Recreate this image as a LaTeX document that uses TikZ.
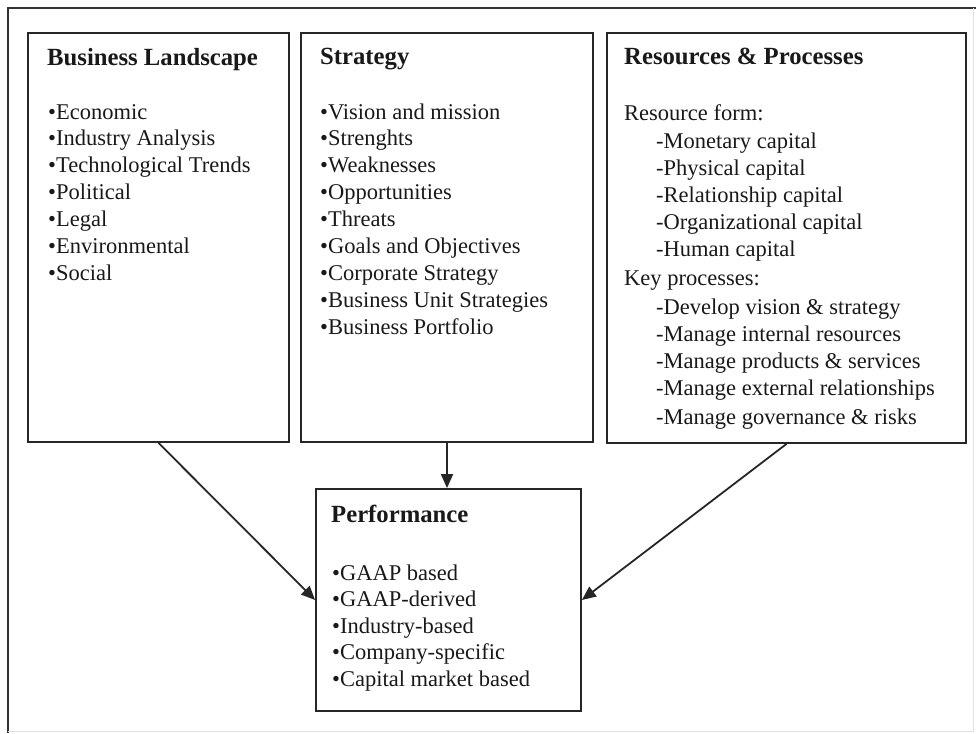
\documentclass[tikz,border=0pt]{standalone}
\usepackage{fontspec}
\setmainfont{Liberation Serif}
\usetikzlibrary{arrows.meta}
\begin{document}
\begin{tikzpicture}[x=1pt,y=-1pt,
  panel/.style={draw=black!85, line width=1.8pt, inner sep=0pt, fill=white},
  txt/.style={anchor=base west, inner sep=0pt, text=black!90,
    font=\fontsize{22.5}{27}\selectfont},
  head/.style={txt, font=\fontsize{24.7}{29}\selectfont\bfseries},
  conn/.style={draw=black!85, line width=1.8pt,
    -{Triangle[length=14pt,width=12pt]}}]
\useasboundingbox (0,0) rectangle (976,733);

% outer frame
\draw[black!80, line width=1.8pt] (8,733) -- (8,8) -- (976,8);
\draw[black!12, line width=1pt] (973,8) -- (973,731) -- (8,731);

% panels
\node[panel, minimum width=261pt, minimum height=409pt] (bl) at (158.5,237.5) {};
\node[panel, minimum width=292pt, minimum height=409pt] (st) at (447,237.5) {};
\node[panel, minimum width=359pt, minimum height=410pt] (rp) at (786.5,238) {};
\node[panel, minimum width=265pt, minimum height=222pt] (pf) at (448.5,600) {};

% Business Landscape
\node[head] (blh) at (47,66) {Business Landscape};
\foreach \t [count=\i] in {Economic, Industry Analysis, Technological Trends,
    Political, Legal, Environmental, Social}
  \node[txt] (bl\i) at (48,{119+26.9*(\i-1)}) {•\t};

% Strategy
\node[head] (sth) at (320,65) {Strategy};
\foreach \t [count=\i] in {Vision and mission, Strenghts, Weaknesses,
    Opportunities, Threats, Goals and Objectives, Corporate Strategy,
    Business Unit Strategies, Business Portfolio}
  \node[txt] (st\i) at (320,{119+26.9*(\i-1)}) {•\t};

% Resources & Processes
\node[head] (rph) at (624,65) {Resources \& Processes};
\node[txt] (rpa) at (624,121) {Resource form:};
\foreach \t [count=\i] in {Monetary capital, Physical capital,
    Relationship capital, Organizational capital, Human capital}
  \node[txt] (rpa\i) at (656,{148.5+27*(\i-1)}) {-\t};
\node[txt] (rpb) at (624,285) {Key processes:};
\foreach \t [count=\i] in {Develop vision \& strategy,
    Manage internal resources, Manage products \& services,
    Manage external relationships}
  \node[txt] (rpb\i) at (656,{314+27.3*(\i-1)}) {-\t};
\node[txt] (rpb5) at (656,424) {-Manage governance \& risks};

% Performance
\node[head] (pfh) at (331,522) {Performance};
\foreach \t [count=\i] in {GAAP based, GAAP-derived, Industry-based,
    Company-specific, Capital market based}
  \node[txt] (pf\i) at (332,{580+26.5*(\i-1)}) {•\t};

% connectors
\draw[conn] (bl.south) -- (pf.west);
\draw[conn] (st.south) -- (st.south |- pf.north);
\draw[conn] (rp.south) -- (pf.east);
\end{tikzpicture}
\end{document}
